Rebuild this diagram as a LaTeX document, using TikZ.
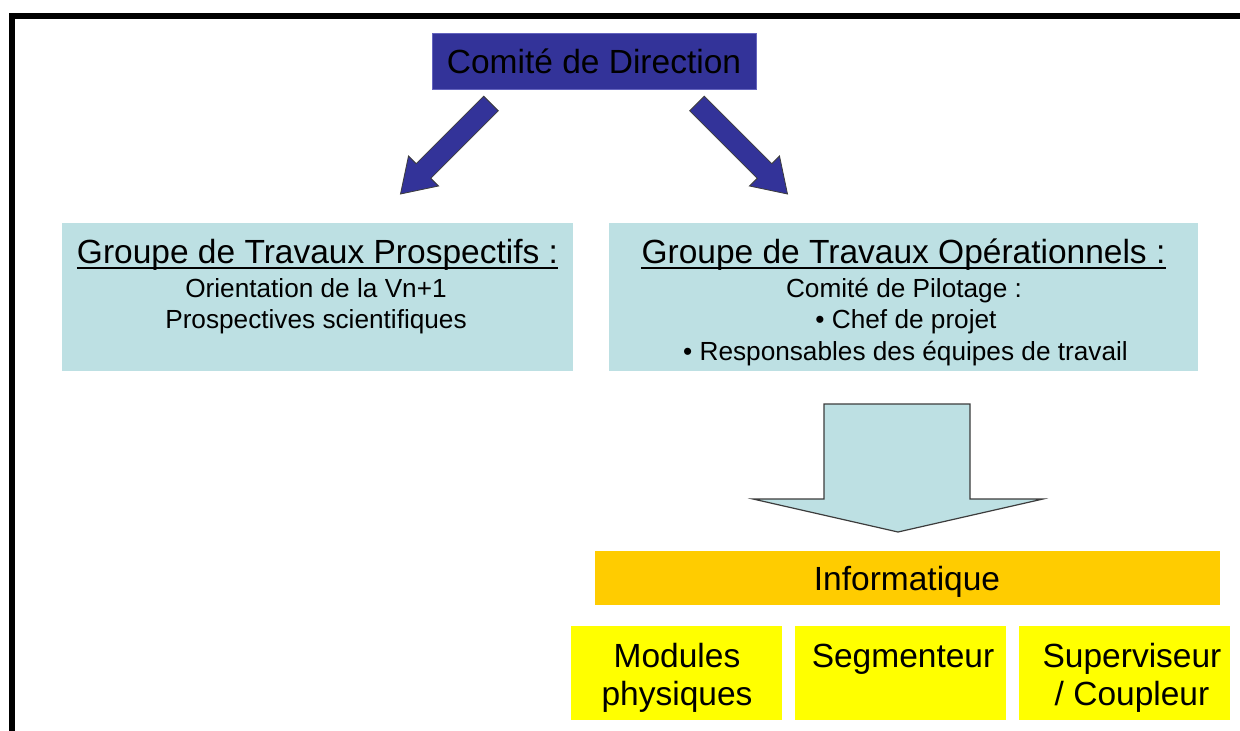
\documentclass[tikz,border=0pt]{standalone}
\usepackage{fontspec}
\setmainfont{Liberation Sans}
\definecolor{dirblue}{RGB}{51,51,153}
\definecolor{dirbluelt}{RGB}{100,100,190}
\definecolor{paleblue}{RGB}{189,224,227}
\definecolor{orangebar}{RGB}{255,204,0}
\definecolor{yellowbox}{RGB}{255,255,0}
\definecolor{outline}{RGB}{60,60,60}
\begin{document}
\begin{tikzpicture}[x=1pt,y=-1pt,
  big/.style={font=\fontsize{33.5}{38}\selectfont, inner sep=0, anchor=base},
  small/.style={font=\fontsize{26.2}{30}\selectfont, inner sep=0, anchor=base},
  panel/.style={fill=paleblue, draw=none, inner sep=0},
  ybox/.style={fill=yellowbox, draw=none, inner sep=0, minimum width=211, minimum height=94},
  blockarrow/.style={fill=dirblue, draw=outline, line width=0.8, line join=miter},
  downarrow/.style={fill=paleblue, draw=outline, line width=1.2, line join=miter}]
\useasboundingbox (0,0) rectangle (1240,731);
\fill[white] (0,0) rectangle (1240,731);
% frame
\draw[line width=6, line join=miter] (12,731) -- (12,16) -- (1240,16);
% Comite de Direction
\node[fill=dirblue, draw=dirbluelt, line width=1, minimum width=324, minimum height=56, inner sep=0] (dir) at (594,61) {};
\node[big] (dirtext) at (594,73) {Comité de Direction};
% block arrows
\coordinate (la1) at (483.7,96.2); \coordinate (la2) at (416.2,163.7);
\coordinate (la3) at (408.5,156); \coordinate (latip) at (400.5,194);
\coordinate (la5) at (438.5,186); \coordinate (la6) at (430.8,178.3);
\coordinate (la7) at (498.3,110.8);
\draw[blockarrow] (la1) -- (la2) -- (la3) -- (latip) -- (la5) -- (la6) -- (la7) -- cycle;
\coordinate (ra1) at (704.3,96.2); \coordinate (ra2) at (771.8,163.7);
\coordinate (ra3) at (779.5,156); \coordinate (ratip) at (787.5,194);
\coordinate (ra5) at (749.5,186); \coordinate (ra6) at (757.2,178.3);
\coordinate (ra7) at (689.7,110.8);
\draw[blockarrow] (ra1) -- (ra2) -- (ra3) -- (ratip) -- (ra5) -- (ra6) -- (ra7) -- cycle;
% left panel
\node[panel, minimum width=511, minimum height=148] (prosp) at (317.5,297) {};
\node[big] (prosptitle) at (317.5,263) {Groupe de Travaux Prospectifs :};
\draw[line width=1.8] ([yshift=-5pt]prosptitle.base west) -- ([yshift=-5pt]prosptitle.base east);
\node[small] (prosp1) at (316,297) {Orientation de la Vn+1};
\node[small] (prosp2) at (316,328) {Prospectives scientifiques};
% right panel
\node[panel, minimum width=589, minimum height=148] (oper) at (903.5,297) {};
\node[big] (opertitle) at (903.5,263) {Groupe de Travaux Opérationnels :};
\draw[line width=1.8] ([yshift=-5pt]opertitle.base west) -- ([yshift=-5pt]opertitle.base east);
\node[small] (oper1) at (904,297) {Comité de Pilotage :};
\node[small] (oper2) at (906,328) {• Chef de projet};
\node[small] (oper3) at (905.5,360) {• Responsables des équipes de travail};
% down arrow
\coordinate (d1) at (824,404); \coordinate (d2) at (970,404);
\coordinate (d3) at (970,499); \coordinate (d4) at (1043,499);
\coordinate (dtip) at (898,532); \coordinate (d6) at (753,499);
\coordinate (d7) at (824,499);
\draw[downarrow] (d1) -- (d2) -- (d3) -- (d4) -- (dtip) -- (d6) -- (d7) -- cycle;
% Informatique
\node[fill=orangebar, inner sep=0, minimum width=625, minimum height=54] (info) at (907.5,578) {};
\node[big] (infotext) at (907,590) {Informatique};
% bottom boxes
\node[ybox] (mod) at (676.5,673) {};
\node[big] (mod1) at (677,667) {Modules};
\node[big] (mod2) at (677,705) {physiques};
\node[ybox] (seg) at (900.5,673) {};
\node[big] (seg1) at (903,667) {Segmenteur};
\node[ybox] (sup) at (1124,673) {};
\node[big] (sup1) at (1132,667) {Superviseur};
\node[big] (sup2) at (1132,705) {/ Coupleur};
\end{tikzpicture}
\end{document}
